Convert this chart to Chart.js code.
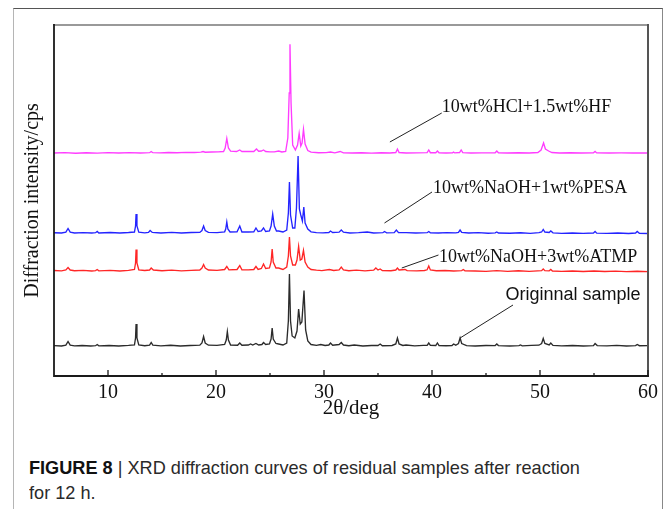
<!DOCTYPE html>
<html>
<head>
<meta charset="utf-8">
<script src="https://cdn.jsdelivr.net/npm/chart.js@4"></script>
<style>
  html, body { margin: 0; padding: 0; background: #fff; }
  body { width: 663px; height: 509px; position: relative; overflow: hidden; }
  .card {
    position: absolute; left: 13px; top: 8px; width: 648px; height: 520px;
    border-top: 1.5px solid #555; border-left: 1.5px solid #b5b5b5; border-right: 1.5px solid #888;
  }
  .plot { position: absolute; left: 0; top: 0; width: 663px; height: 430px; }
  .caption {
    position: absolute; left: 29px; top: 455px; white-space: nowrap;
    font-family: 'Liberation Sans Narrow', 'Arial Narrow', 'Liberation Sans', sans-serif;
    font-size: 19px; line-height: 25px; color: #2a2a2a;
    transform: scaleX(0.955); transform-origin: left top;
  }
  .caption b { color: #111; }
</style>
</head>
<body>
<div class="card"></div>
<div class="plot"><canvas id="xrd"></canvas></div>
<div class="caption"><b>FIGURE 8</b> | XRD diffraction curves of residual samples after reaction<br>for 12 h.</div>
<script>
// 2θ (deg) vs counts above each curve's own baseline
const original = [
  [5.0,0.4],[5.7,0],[6.1,0.8],[6.3,4.5],[6.5,0.8],[6.9,0.2],[7.6,0.5],[8.4,0],[8.85,0.3],[9.0,1.5],[9.15,0.2],
  [10.1,0.5],[11.0,0],[11.9,0.6],[12.45,1.2],[12.55,8],[12.6,22],[12.68,8],[12.85,1],[13.4,0.3],[13.85,0.8],
  [14.0,3.5],[14.15,0.8],[14.9,0.2],[15.8,0.7],[16.7,0],[17.6,0.5],[18.5,0.8],[18.7,3],[18.85,9.5],[19.0,3],
  [19.3,0.8],[20.1,0.6],[20.8,1.5],[20.95,6],[21.05,14.5],[21.15,6],[21.35,1],[22.0,0.8],[22.2,3],[22.4,0.8],
  [23.0,1],[23.2,2],[23.4,1],[23.7,2.5],[23.95,1],[24.25,1.5],[24.4,3.5],[24.6,1.5],[24.95,2],[25.1,7],
  [25.2,18],[25.3,7],[25.55,2.5],[25.8,2],[26.2,1],[26.55,3],[26.7,25],[26.8,72],[26.9,25],[27.05,10],
  [27.3,8],[27.5,15],[27.65,37],[27.8,22],[27.95,24],[28.15,55.5],[28.3,16],[28.5,5],[28.8,1.5],[29.3,0.6],
  [29.7,1.5],[30.1,0.5],[30.45,1],[30.6,3],[30.8,0.8],[31.4,1.5],[31.6,3.5],[31.8,1],[32.3,0.3],[32.8,1],
  [33.6,0],[34.4,0.5],[35.0,0.5],[35.2,2],[35.4,0.3],[36.3,0.5],[36.65,2],[36.8,8],[36.95,2],[37.3,0.5],
  [37.6,1],[38.4,0.2],[39.2,0.6],[39.55,0.6],[39.7,3],[39.85,0.6],[40.35,0.5],[40.5,3],[40.65,0.5],[41.3,0.3],
  [41.85,0.5],[42.0,2],[42.2,0.8],[42.45,2.5],[42.6,8],[42.75,2.5],[43.2,0.4],[44.0,0],[45.0,0.5],[45.85,0.4],
  [46.0,2],[46.15,0.4],[47.2,0],[48.05,0.3],[48.2,1],[48.35,0.2],[49.2,0.6],[49.9,0.8],[50.15,2.5],[50.3,7.5],
  [50.45,2.5],[50.85,1],[51.0,3],[51.2,0.6],[52.0,0.2],[53.0,0.5],[54.0,0],[54.95,0.4],[55.1,2.5],[55.3,0.4],
  [56.2,0.2],[57.1,0.6],[58.0,0],[58.85,0.4],[59.0,1.5],[59.2,0.3],[60.0,0.4]
];

const atmp = [
  [5.0,0.5],[5.7,0.2],[6.1,1],[6.3,3.5],[6.5,1],[6.9,0.3],[7.7,0.6],[8.5,0],[8.85,0.4],[9.0,1.5],[9.15,0.2],
  [10.2,0.6],[11.1,0],[11.9,0.6],[12.45,1.5],[12.55,8],[12.6,21.5],[12.68,8],[12.85,1.2],[13.4,0.5],[13.85,1],
  [14.0,3],[14.2,1],[15.0,0.3],[15.9,0.8],[16.8,0.2],[17.7,0.6],[18.5,1],[18.7,3],[18.85,6.5],[19.0,3],
  [19.3,1],[20.1,0.6],[20.8,1.5],[21.0,4.5],[21.2,1.2],[21.95,1.5],[22.2,5.5],[22.4,1.2],[23.0,1.2],[23.5,1.5],
  [23.7,4.5],[23.9,1.5],[24.2,2.5],[24.4,7],[24.6,2.5],[24.95,3],[25.1,9],[25.2,22],[25.3,9],[25.55,3],
  [25.8,3],[26.2,1.5],[26.55,4],[26.7,15],[26.8,34],[26.9,15],[27.1,6],[27.35,6],[27.5,11],[27.65,24.5],
  [27.8,11],[27.95,12],[28.1,20.5],[28.25,9],[28.5,4],[28.8,1.5],[29.3,0.8],[29.8,0.4],[30.5,1.5],[30.9,0.5],
  [31.4,1.2],[31.6,4],[31.8,1.2],[32.3,0.3],[33.0,0.8],[33.8,0.2],[34.6,0.8],[34.8,3],[35.0,1],[35.2,2],
  [35.4,0.5],[36.2,0.3],[36.65,1],[36.8,3],[36.95,1],[37.5,1.5],[37.7,0.3],[38.6,0.2],[39.3,0.5],[39.55,1.2],
  [39.7,5],[39.85,1],[40.4,0.3],[41.2,0.5],[42.0,0],[42.75,0.4],[42.9,1.5],[43.05,0.2],[44.0,0],[45.0,-0.3],
  [46.0,0.4],[47.0,-0.3],[48.0,0.2],[49.0,-0.4],[50.15,0.3],[50.3,2],[50.45,0.3],[50.85,0.2],[51.0,1.5],
  [51.15,0],[52.0,-0.4],[53.0,0],[54.0,-0.5],[55.0,0],[56.0,-0.5],[57.0,-0.2],[58.0,-0.6],[59.0,-0.3],[60.0,-0.6]
];

const pesa = [
  [5.0,0.3],[5.7,0],[6.1,0.8],[6.3,4.5],[6.5,0.8],[6.9,0],[7.7,0.4],[8.5,0],[8.85,0.3],[9.0,1.5],[9.15,0],
  [10.2,0.5],[11.1,0],[11.9,0.5],[12.45,1],[12.55,7],[12.6,19],[12.68,7],[12.85,0.8],[13.4,0.2],[13.75,0.6],
  [13.9,2.5],[14.1,0.6],[14.9,0],[15.9,0.6],[16.8,0],[17.7,0.5],[18.5,0.6],[18.7,2.5],[18.85,7],[19.0,2.5],
  [19.3,0.6],[20.1,0.4],[20.8,1.2],[20.9,4],[21.0,11],[21.1,4],[21.3,1],[21.95,1.2],[22.2,7],[22.4,1],
  [23.0,1],[23.5,1.2],[23.7,5],[23.9,1.5],[24.2,2],[24.4,5],[24.6,1.5],[24.95,2],[25.1,7],[25.25,19],
  [25.4,7],[25.6,2],[25.8,2],[26.2,1],[26.55,3],[26.7,20],[26.8,51],[26.9,18],[27.1,5],[27.3,5],
  [27.45,25],[27.6,77],[27.72,24],[27.85,18],[28.0,12],[28.13,26],[28.25,10],[28.5,4],[28.8,1.2],[29.3,0.4],
  [29.9,0.2],[30.45,0.5],[30.6,2],[30.8,0.5],[31.4,0.8],[31.6,3],[31.8,0.8],[32.4,0],[33.2,0.4],[34.0,1],
  [34.6,0],[35.45,0.3],[35.6,1.5],[35.8,0.2],[36.5,0.4],[36.7,3],[36.9,0.4],[37.6,0.3],[38.5,0],[39.55,0.3],
  [39.7,1.5],[39.85,0.2],[40.6,0],[41.4,0.3],[42.2,0.2],[42.45,0.6],[42.6,3],[42.75,0.6],[43.4,0],[44.3,0.3],
  [45.2,-0.2],[45.85,0.2],[46.0,1],[46.15,0],[47.2,-0.2],[48.2,0.2],[49.1,-0.3],[49.9,0.4],[50.15,1],[50.3,3.5],
  [50.45,1],[50.85,0.5],[51.0,2],[51.2,0.2],[52.0,-0.3],[53.0,0],[54.0,-0.4],[54.95,0],[55.1,1.5],[55.25,-0.2],
  [56.2,-0.4],[57.2,0],[58.2,-0.5],[58.85,0],[59.0,1.5],[59.2,-0.3],[60.0,-0.5]
];

const hclHf = [
  [5.0,0],[6.0,0.3],[7.0,-0.2],[8.0,0.2],[9.0,-0.1],[10.0,0.3],[11.0,0],[12.0,0.3],[13.0,0],[13.85,0.3],
  [14.0,1.5],[14.15,0.3],[14.8,0.2],[15.6,0.5],[16.4,0.3],[17.2,0.6],[18.0,0.5],[18.6,0.8],[18.8,1.5],[19.0,0.8],
  [19.6,1],[20.2,1.2],[20.7,1.5],[20.85,5],[21.0,14.5],[21.15,5],[21.35,1.8],[21.9,1.5],[22.2,3],[22.4,1.5],
  [23.0,1.5],[23.5,1.5],[23.75,4],[23.95,1.8],[24.2,2],[24.4,3],[24.6,1.5],[25.0,1.2],[25.4,1.2],[25.8,2],
  [26.1,1],[26.45,1.5],[26.65,15],[26.78,60],[26.85,108.7],[26.95,50],[27.1,8],[27.35,3],[27.55,8],[27.7,19.7],
  [27.85,7],[27.97,10],[28.1,23.7],[28.25,9],[28.5,2.5],[28.8,0.8],[29.5,0.3],[30.2,0.4],[30.6,1],[31.0,0.2],
  [31.5,1.5],[31.8,0.1],[32.6,0],[33.5,0.2],[34.4,-0.1],[35.3,0.2],[36.1,0],[36.65,0.5],[36.8,4],[36.95,0.5],
  [37.6,0],[38.6,0.2],[39.55,0.3],[39.7,3],[39.85,0.3],[40.35,0.3],[40.5,2],[40.65,0.2],[41.3,0],[41.9,0.2],
  [42.0,1],[42.1,0.1],[42.55,0.5],[42.7,3],[42.85,0.3],[43.6,0],[44.6,0.2],[45.85,0.2],[46.0,2],[46.15,0.2],
  [47.0,0],[48.0,0.2],[49.0,0],[49.8,0.5],[50.1,3],[50.33,10],[50.5,4],[50.8,2],[51.1,0.5],[51.8,0],
  [52.8,0.2],[53.8,0],[54.95,0.2],[55.1,1.5],[55.25,0.1],[56.4,0],[57.5,0.1],[58.6,0],[60.0,0]
];

const samples = [original, atmp, pesa, hclHf];
const sampleNames = ['Originnal sample', '10wt%NaOH+3wt%ATMP', '10wt%NaOH+1wt%PESA', '10wt%HCl+1.5wt%HF'];
const offsets = [30, 105, 143, 223];          // vertical stacking of the curves
const colors = ['#2b2b2b', '#ff2626', '#2424ff', '#ff3cff'];

const tickValues = [10, 20, 30, 40, 50, 60];
const minorTicks = [15, 25, 35, 45, 55];

// leader line start / end and text anchor for each curve label, in (2θ, counts)
const leaderFrom = [[42.6, 38], [37.2, 108], [35.6, 153], [36.1, 234]];
const leaderTo = [[47.5, 71], [40.6, 121], [40.0, 184], [40.9, 263]];
const labelAt = [[46.8, 81], [40.65, 119], [40.1, 188], [40.9, 269]];

const serif = "'Liberation Serif', 'Times New Roman', serif";

// frame, inward ticks on the 2θ axis and the curve labels
const framePlugin = {
  id: 'frame',
  afterDraw(chart) {
    const { ctx, chartArea: a, scales: { x, y } } = chart;
    ctx.save();
    ctx.lineCap = 'square';

    ctx.strokeStyle = '#777';
    ctx.lineWidth = 1.5;
    ctx.beginPath();
    ctx.moveTo(a.left, a.top); ctx.lineTo(a.right, a.top);
    ctx.stroke();
    ctx.strokeStyle = '#555';
    ctx.lineWidth = 2;
    ctx.beginPath();
    ctx.moveTo(a.right, a.top); ctx.lineTo(a.right, a.bottom);
    ctx.stroke();
    ctx.strokeStyle = '#1a1a1a';
    ctx.lineWidth = 1.8;
    ctx.beginPath();
    ctx.moveTo(a.left, a.top); ctx.lineTo(a.left, a.bottom); ctx.lineTo(a.right, a.bottom);
    ctx.stroke();

    ctx.lineWidth = 1.3;
    ctx.lineCap = 'butt';
    tickValues.forEach(v => {
      const px = x.getPixelForValue(v);
      ctx.beginPath(); ctx.moveTo(px, a.bottom); ctx.lineTo(px, a.bottom - 6); ctx.stroke();
    });
    minorTicks.forEach(v => {
      const px = x.getPixelForValue(v);
      ctx.beginPath(); ctx.moveTo(px, a.bottom); ctx.lineTo(px, a.bottom - 3); ctx.stroke();
    });

    ctx.strokeStyle = '#222';
    ctx.lineWidth = 1;
    ctx.fillStyle = '#111';
    ctx.textBaseline = 'middle';
    ctx.textAlign = 'left';
    sampleNames.forEach((name, i) => {
      ctx.beginPath();
      ctx.moveTo(x.getPixelForValue(leaderFrom[i][0]), y.getPixelForValue(leaderFrom[i][1]));
      ctx.lineTo(x.getPixelForValue(leaderTo[i][0]), y.getPixelForValue(leaderTo[i][1]));
      ctx.stroke();
      ctx.font = i === 0 ? "18px 'Liberation Sans', Arial, sans-serif" : '18px ' + serif;
      ctx.fillText(name, x.getPixelForValue(labelAt[i][0]), y.getPixelForValue(labelAt[i][1]));
    });
    ctx.restore();
  }
};

const datasets = samples.map((pts, i) => ({
  label: sampleNames[i],
  data: pts.map(p => ({ x: p[0], y: p[1] + offsets[i] })),
  borderColor: colors[i],
  borderWidth: 1.35,
  pointRadius: 0,
  tension: 0,
  fill: false
}));

new Chart(document.getElementById('xrd'), {
  type: 'line',
  data: { datasets },
  options: {
    responsive: true,
    maintainAspectRatio: false,
    animation: false,
    layout: { padding: { top: 25, right: 15, left: 0, bottom: 0 } },
    plugins: { legend: { display: false }, tooltip: { enabled: false } },
    scales: {
      x: {
        type: 'linear',
        min: 5,
        max: 60,
        afterBuildTicks: s => { s.ticks = tickValues.map(v => ({ value: v })); },
        afterFit: s => { s.height = 54; },
        grid: { display: false, drawTicks: false },
        border: { display: false },
        ticks: { color: '#111', font: { family: serif, size: 20 }, padding: 5, maxRotation: 0, autoSkip: false },
        title: {
          display: true, text: '2θ/deg', color: '#111',
          font: { family: serif, size: 21 }, padding: { top: 0, bottom: 9 }
        }
      },
      y: {
        type: 'linear',
        min: 0,
        max: 351,
        afterFit: s => { s.width = 54; },
        grid: { display: false, drawTicks: false },
        border: { display: false },
        ticks: { display: false },
        title: {
          display: true, text: 'Diffraction intensity/cps', color: '#111',
          font: { family: serif, size: 20 }, padding: { top: 21, bottom: 0 }
        }
      }
    }
  },
  plugins: [framePlugin]
});
</script>
</body>
</html>
